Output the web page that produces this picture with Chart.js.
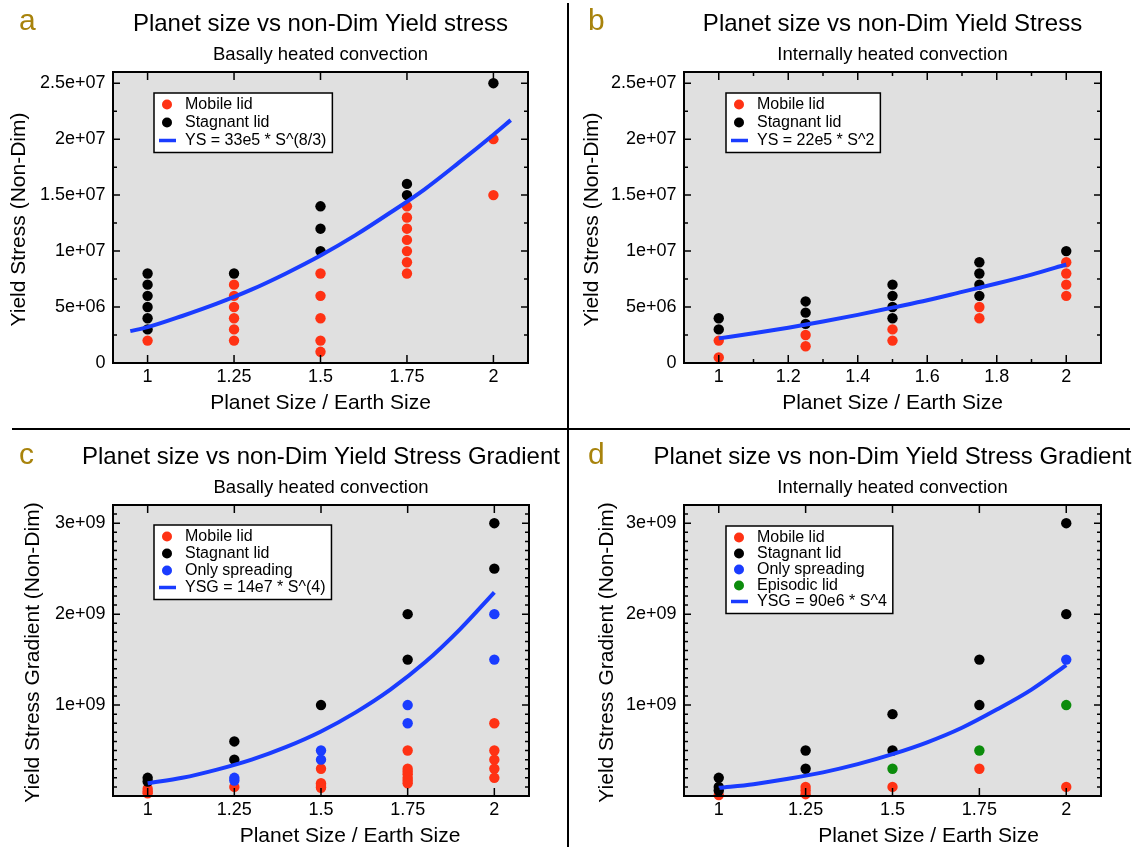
<!DOCTYPE html>
<html>
<head>
<meta charset="utf-8">
<script src="https://cdn.jsdelivr.net/npm/chart.js@4.4.1/dist/chart.umd.min.js"></script>
<style>
  body { margin: 0; background: #fff; }
  #wrap { position: relative; width: 1138px; height: 850px; overflow: hidden; }
  #wrap canvas { position: absolute; }
  .rule { position: absolute; background: #000; }
</style>
</head>
<body>
<div id="wrap">
  <canvas id="pa" width="569" height="430" style="left:0;top:0"></canvas>
  <canvas id="pb" width="569" height="430" style="left:569px;top:0"></canvas>
  <canvas id="pc" width="569" height="420" style="left:0;top:430px"></canvas>
  <canvas id="pd" width="569" height="420" style="left:569px;top:430px"></canvas>
  <div class="rule" style="left:567px;top:3px;width:2px;height:844px"></div>
  <div class="rule" style="left:12px;top:428px;width:1118px;height:2px"></div>
</div>
<script>
const FONT = '"Liberation Sans", Arial, Helvetica, sans-serif';

// planet sizes (x) shared by every panel
const sizes = [1, 1.25, 1.5, 1.75, 2];

// a: basally heated, yield stress, values x1e6, one list per planet size
const aMobile   = [[2], [7, 6, 5, 4, 3, 2], [8, 6, 4, 2, 1], [14, 13, 12, 11, 10, 9, 8], [20, 15]];
const aStagnant = [[8, 7, 6, 5, 4, 3], [8], [14, 12, 10], [16, 15], [25]];
const aFitS  = [0.95, 1, 1.1, 1.2, 1.3, 1.4, 1.5, 1.6, 1.7, 1.8, 1.9, 2, 2.05];
const aFitYS = [2.85, 3.2, 4.2, 5.3, 6.55, 8.0, 9.6, 11.4, 13.4, 15.5, 17.9, 20.4, 21.7];

// b: internally heated, yield stress, x1e6
const bMobile   = [[2, 0.5], [2.5, 1.5], [3, 2], [5, 4], [9, 8, 7, 6]];
const bStagnant = [[4, 3], [5.5, 4.5, 3.5], [7, 6, 5, 4], [9, 8, 7, 6], [10]];
const bFitS  = [1, 1.1, 1.2, 1.3, 1.4, 1.5, 1.6, 1.7, 1.8, 1.9, 2];
const bFitYS = [2.2, 2.65, 3.15, 3.7, 4.3, 4.95, 5.6, 6.35, 7.1, 7.9, 8.8];

// c: basally heated, yield stress gradient, x1e9
const cMobile   = [[0.08, 0.05, 0.03], [0.1], [0.3, 0.14, 0.12, 0.1, 0.09], [0.5, 0.3, 0.27, 0.24, 0.2, 0.17, 0.14], [0.8, 0.5, 0.4, 0.3, 0.2]];
const cStagnant = [[0.2, 0.16], [0.6, 0.4], [1.0], [2.0, 1.5], [3.0, 2.5]];
const cSpread   = [[], [0.2, 0.17], [0.5, 0.4], [1.0, 0.8], [2.0, 1.5]];
const cFitS   = [1, 1.1, 1.2, 1.3, 1.4, 1.5, 1.6, 1.7, 1.8, 1.9, 2];
const cFitYSG = [0.14, 0.2, 0.29, 0.4, 0.54, 0.71, 0.92, 1.17, 1.47, 1.83, 2.24];

// d: internally heated, yield stress gradient, x1e9
const dMobile   = [[0.01], [0.1, 0.06, 0.02], [0.1], [0.3], [0.1]];
const dStagnant = [[0.2, 0.1, 0.06], [0.5, 0.3], [0.9, 0.5], [1.5, 1.0], [3.0, 2.0]];
const dSpread   = [[], [], [], [], [1.5]];
const dEpisodic = [[], [], [0.3], [0.5], [1.0]];
const dFitS   = [1, 1.1, 1.2, 1.3, 1.4, 1.5, 1.6, 1.7, 1.8, 1.9, 2];
const dFitYSG = [0.09, 0.13, 0.19, 0.26, 0.35, 0.46, 0.59, 0.75, 0.95, 1.17, 1.44];

// labelled ticks
const sizeLabels = [1, 1.25, 1.5, 1.75, 2];
const sizeLabelsB = [1, 1.2, 1.4, 1.6, 1.8, 2];
const ysLabels  = [0, 5e6, 1e7, 1.5e7, 2e7, 2.5e7];
const ysgLabels = [1e9, 2e9, 3e9];

const RED = '#ff3214', BLACK = '#000000', BLUE = '#1a3cff', GREEN = '#0c8c0c', LINE = '#1a3cff';

const pts = (groups, unit) => groups.flatMap((g, i) => g.map(v => ({ x: sizes[i], y: v * unit })));
const curve = (xs, ys, unit) => xs.map((s, i) => ({ x: s, y: ys[i] * unit }));

function tickList(lo, hi, step) {
  const out = [];
  for (let k = Math.round(lo / step); k * step <= hi + step * 1e-6; k++) out.push(+(k * step).toPrecision(12));
  return out;
}

function expLabel(v) {
  if (v === 0) return '0';
  const [m, e] = v.toExponential().split('e');
  const n = parseInt(e, 10);
  return m + 'e' + (n < 0 ? '-' : '+') + String(Math.abs(n)).padStart(2, '0');
}

const panelPlugin = {
  id: 'panel',
  beforeDraw(chart) {
    const { ctx, chartArea: a } = chart;
    ctx.save();
    ctx.fillStyle = '#e0e0e0';
    ctx.fillRect(a.left, a.top, a.width, a.height);
    ctx.restore();
  },
  afterDatasetsDraw(chart) {
    const { ctx, chartArea: a, scales: { x, y } } = chart;
    ctx.save();
    ctx.strokeStyle = '#000';
    ctx.lineWidth = 1.5;
    ctx.beginPath();
    for (const t of x.ticks) {
      const px = x.getPixelForValue(t.value);
      const len = t.major ? 8 : 4;
      ctx.moveTo(px, a.top); ctx.lineTo(px, a.top + len);
      ctx.moveTo(px, a.bottom); ctx.lineTo(px, a.bottom - len);
    }
    for (const t of y.ticks) {
      const py = y.getPixelForValue(t.value);
      const len = t.major ? 7 : 4;
      ctx.moveTo(a.left, py); ctx.lineTo(a.left + len, py);
      ctx.moveTo(a.right, py); ctx.lineTo(a.right - len, py);
    }
    ctx.stroke();
    ctx.lineWidth = 2;
    ctx.strokeRect(a.left, a.top, a.width, a.height);
    ctx.restore();
  },
  afterDraw(chart, args, o) {
    const { ctx, chartArea: a } = chart;
    const cx = (a.left + a.right) / 2;
    ctx.save();
    ctx.fillStyle = '#000';
    ctx.textAlign = 'center';
    ctx.textBaseline = 'middle';
    ctx.font = `24px ${FONT}`;
    ctx.fillText(o.title, cx, a.top - 48);
    ctx.font = `18.5px ${FONT}`;
    ctx.fillText(o.subtitle, cx, a.top - 17);
    ctx.font = `21px ${FONT}`;
    ctx.fillText('Planet Size / Earth Size', cx + o.xShift, a.bottom + 40.5);
    ctx.save();
    ctx.translate(o.yTitleX, (a.top + a.bottom) / 2 + 2);
    ctx.rotate(-Math.PI / 2);
    ctx.fillText(o.yTitle, 0, 0);
    ctx.restore();

    // panel letter
    ctx.fillStyle = '#a8830c';
    ctx.textAlign = 'left';
    ctx.textBaseline = 'alphabetic';
    ctx.font = `30px ${FONT}`;
    ctx.fillText(o.letter, 19, o.letterY);

    // legend box
    const L = o.legend;
    ctx.font = `16px ${FONT}`;
    const bx = a.left + L.x, by = a.top + L.y;
    const tw = Math.max(...L.items.map(it => ctx.measureText(it.label).width));
    const w = 31 + tw + 6;
    const h = 11.5 + (L.items.length - 1) * L.gap + 12;
    ctx.fillStyle = '#fff';
    ctx.fillRect(bx, by, w, h);
    ctx.strokeStyle = '#000';
    ctx.lineWidth = 1.5;
    ctx.strokeRect(bx, by, w, h);
    ctx.textBaseline = 'middle';
    L.items.forEach((it, i) => {
      const ry = by + 11.5 + i * L.gap;
      if (it.line) {
        ctx.strokeStyle = it.color;
        ctx.lineWidth = 3.5;
        ctx.beginPath();
        ctx.moveTo(bx + 5, ry); ctx.lineTo(bx + 22, ry);
        ctx.stroke();
      } else {
        ctx.fillStyle = it.color;
        ctx.beginPath();
        ctx.arc(bx + 13, ry, 5, 0, Math.PI * 2);
        ctx.fill();
      }
      ctx.fillStyle = '#000';
      ctx.fillText(it.label, bx + 31, ry + 0.5);
    });
    ctx.restore();
  }
};

function dots(data, color, order) {
  return { data, backgroundColor: color, borderWidth: 0, pointRadius: 5.2, pointHoverRadius: 5.2, clip: false, order };
}
function fit(data) {
  return { data, showLine: true, borderColor: LINE, borderWidth: 4, pointRadius: 0, fill: false,
           cubicInterpolationMode: 'monotone', clip: false, order: 0 };
}

function makeChart(id, cfg) {
  const canvas = document.getElementById(id);
  const [L, T, R, B] = cfg.area;
  const tickFont = { family: FONT, size: 18 };
  return new Chart(canvas, {
    type: 'scatter',
    data: { datasets: cfg.datasets },
    options: {
      responsive: false,
      animation: false,
      events: [],
      layout: { padding: { left: 0, top: T, right: canvas.width - R, bottom: canvas.height - B - 40 } },
      plugins: { legend: { display: false }, tooltip: { enabled: false }, panel: cfg.panel },
      scales: {
        x: {
          type: 'linear', min: 0.9, max: 2.1,
          grid: { display: false, drawTicks: false }, border: { display: false },
          afterBuildTicks: s => { s.ticks = cfg.xTicks.map(v => ({ value: v, major: cfg.xLabels.includes(v) })); },
          afterFit: s => { s.height = 40; },
          ticks: { autoSkip: false, maxRotation: 0, padding: 3, color: '#000', font: tickFont,
                   callback: v => cfg.xLabels.includes(v) ? String(v) : '' }
        },
        y: {
          type: 'linear', min: 0, max: cfg.yMax,
          grid: { display: false, drawTicks: false }, border: { display: false },
          afterBuildTicks: s => { s.ticks = cfg.yTicks.map(v => ({ value: v, major: cfg.yMajor(v) })); },
          afterFit: s => { s.width = L; },
          ticks: { autoSkip: false, padding: 7.5, color: '#000', font: tickFont,
                   callback: v => cfg.yLabels.includes(v) ? expLabel(v) : '' }
        }
      }
    },
    plugins: [panelPlugin]
  });
}

const ysTicks = tickList(0, 2.6e7, 2.5e6);
const ysgTicks = tickList(0, 3.2e9, 1e8);

makeChart('pa', {
  area: [113, 72, 528, 363],
  yMax: 2.6e7, yTicks: ysTicks, yLabels: ysLabels, yMajor: v => v % 5e6 === 0,
  xTicks: sizeLabels, xLabels: sizeLabels,
  datasets: [fit(curve(aFitS, aFitYS, 1e6)), dots(pts(aStagnant, 1e6), BLACK, 3), dots(pts(aMobile, 1e6), RED, 4)],
  panel: {
    letter: 'a', letterY: 29.5, xShift: 0, yTitleX: 19,
    title: 'Planet size vs non-Dim Yield stress', subtitle: 'Basally heated convection',
    yTitle: 'Yield Stress (Non-Dim)',
    legend: { x: 41, y: 21, gap: 18, items: [
      { label: 'Mobile lid', color: RED }, { label: 'Stagnant lid', color: BLACK },
      { label: 'YS = 33e5 * S^(8/3)', color: LINE, line: true }] }
  }
});

makeChart('pb', {
  area: [115, 72, 532, 363],
  yMax: 2.6e7, yTicks: ysTicks, yLabels: ysLabels, yMajor: v => v % 5e6 === 0,
  xTicks: tickList(1, 2, 0.1), xLabels: sizeLabelsB,
  datasets: [fit(curve(bFitS, bFitYS, 1e6)), dots(pts(bStagnant, 1e6), BLACK, 3), dots(pts(bMobile, 1e6), RED, 4)],
  panel: {
    letter: 'b', letterY: 29.5, xShift: 0, yTitleX: 23,
    title: 'Planet size vs non-Dim Yield Stress', subtitle: 'Internally heated convection',
    yTitle: 'Yield Stress (Non-Dim)',
    legend: { x: 42, y: 21, gap: 18, items: [
      { label: 'Mobile lid', color: RED }, { label: 'Stagnant lid', color: BLACK },
      { label: 'YS = 22e5 * S^2', color: LINE, line: true }] }
  }
});

makeChart('pc', {
  area: [113, 75, 529, 366],
  yMax: 3.2e9, yTicks: ysgTicks, yLabels: ysgLabels, yMajor: v => v % 1e9 === 0,
  xTicks: sizeLabels, xLabels: sizeLabels,
  datasets: [fit(curve(cFitS, cFitYSG, 1e9)), dots(pts(cSpread, 1e9), BLUE, 2),
             dots(pts(cStagnant, 1e9), BLACK, 3), dots(pts(cMobile, 1e9), RED, 4)],
  panel: {
    letter: 'c', letterY: 33.5, xShift: 29, yTitleX: 33,
    title: 'Planet size vs non-Dim Yield Stress Gradient', subtitle: 'Basally heated convection',
    yTitle: 'Yield Stress Gradient (Non-Dim)',
    legend: { x: 41, y: 20, gap: 17, items: [
      { label: 'Mobile lid', color: RED }, { label: 'Stagnant lid', color: BLACK },
      { label: 'Only spreading', color: BLUE },
      { label: 'YSG = 14e7 * S^(4)', color: LINE, line: true }] }
  }
});

makeChart('pd', {
  area: [115, 75, 532, 366],
  yMax: 3.2e9, yTicks: ysgTicks, yLabels: ysgLabels, yMajor: v => v % 1e9 === 0,
  xTicks: sizeLabels, xLabels: sizeLabels,
  datasets: [fit(curve(dFitS, dFitYSG, 1e9)), dots(pts(dEpisodic, 1e9), GREEN, 1), dots(pts(dSpread, 1e9), BLUE, 2),
             dots(pts(dStagnant, 1e9), BLACK, 3), dots(pts(dMobile, 1e9), RED, 4)],
  panel: {
    letter: 'd', letterY: 33.5, xShift: 36, yTitleX: 38,
    title: 'Planet size vs non-Dim Yield Stress Gradient', subtitle: 'Internally heated convection',
    yTitle: 'Yield Stress Gradient (Non-Dim)',
    legend: { x: 42, y: 21, gap: 16, items: [
      { label: 'Mobile lid', color: RED }, { label: 'Stagnant lid', color: BLACK },
      { label: 'Only spreading', color: BLUE }, { label: 'Episodic lid', color: GREEN },
      { label: 'YSG = 90e6 * S^4', color: LINE, line: true }] }
  }
});
</script>
</body>
</html>
